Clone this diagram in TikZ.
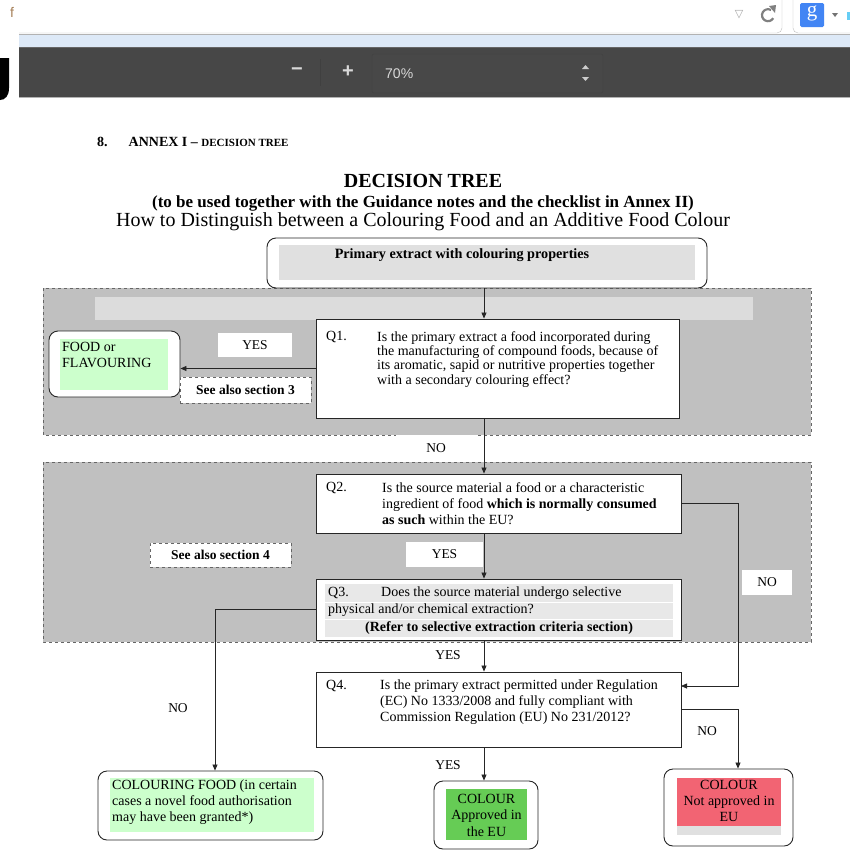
\documentclass[tikz,border=0pt]{standalone}
\usepackage{fontspec}
\setmainfont{Liberation Serif}
\newfontfamily\uifont{Liberation Sans}
\newfontfamily\symfont{DejaVu Sans}
\usetikzlibrary{arrows.meta,calc}
\definecolor{regiongray}{HTML}{C0C0C0}
\definecolor{stripgray}{HTML}{DCDCDC}
\definecolor{primgray}{HTML}{E0E0E0}
\definecolor{lightgreen}{HTML}{CCFFCC}
\definecolor{midgreen}{HTML}{66CC55}
\definecolor{pinkred}{HTML}{F26473}
\definecolor{toolbar}{HTML}{474747}
\definecolor{paleblue}{HTML}{DDE9F7}
\definecolor{gblue}{HTML}{4285F4}
\begin{document}
\begin{tikzpicture}[x=1pt,y=-1pt,
  region/.style={draw=black!60,dashed,fill=regiongray,line width=0.5pt},
  qbox/.style={draw=black!85,fill=white,line width=0.9pt,rectangle,inner sep=0},
  outbox/.style={draw=black!85,fill=white,line width=0.9pt,rounded corners=9pt,rectangle,inner sep=0},
  lab/.style={fill=white,inner sep=0,rectangle,font=\fontsize{13.5}{15}\selectfont},
  seebox/.style={draw=black!60,dashed,fill=white,inner sep=0,rectangle,font=\bfseries\fontsize{13.5}{15}\selectfont},
  qtext/.style={anchor=north west,inner sep=0,align=left,font=\fontsize{14}{16}\selectfont},
  arr/.style={-{Triangle[length=6pt,width=5pt]},line width=0.8pt,draw=black!85},
  conn/.style={line width=0.8pt,draw=black!85}]
\useasboundingbox (0,0) rectangle (850,857);
\fill[white] (0,0) rectangle (850,857);
% ---------------- browser chrome ----------------
\draw[black!25] (19,33) -- (777,33) arc[start angle=90,end angle=0,radius=5] -- (782,0);
\draw[black!25] (793,0) -- (793,28) arc[start angle=180,end angle=90,radius=5] -- (850,33);
\node[inner sep=0,text=brown!60!gray,font=\uifont\fontsize{14}{14}\selectfont] (fchar) at (12,12) {f};
\node[inner sep=0,text=black!35,font=\symfont\fontsize{11}{11}\selectfont] (tri) at (739,15) {▽};
\draw[black!50,line width=2.2pt] (771,10) arc[start angle=-60,end angle=-330,radius=6];
\fill[black!50] (769,6) -- (776,5) -- (775,13) -- cycle;
\fill[gblue,rounded corners=1.5pt] (800,3) rectangle (824,27);
\node[inner sep=0,text=white,font=\fontsize{21}{21}\selectfont] (gchar) at (812,13) {g};
\fill[black!55] (832,13) -- (838,13) -- (835,17) -- cycle;
\fill[cyan!60] (847,12) rectangle (850,20);
\fill[paleblue] (19,34) rectangle (850,47);
\draw[black!30] (19,34) -- (850,34);
\fill[toolbar] (19,47) rectangle (850,97);
\draw[black!60] (19,47) -- (850,47);
\draw[black!30] (19,97) -- (850,97);
\fill[black] (0,58) -- (9,58) -- (9,88) .. controls (9,96) and (5,100) .. (0,100) -- cycle;
\node[inner sep=0,text=white!85!black,font=\uifont\bfseries\fontsize{20}{20}\selectfont] (minus) at (297,72) {−};
\draw[black!75,line width=1pt] (320,59) -- (320,86);
\node[inner sep=0,text=white!85!black,font=\uifont\bfseries\fontsize{20}{20}\selectfont] (plus) at (348,72) {+};
\draw[black!75,fill=black!70,fill opacity=0.25,rounded corners=2pt] (372,54) rectangle (603,93);
\node[inner sep=0,anchor=west,text=white!85!black,font=\uifont\fontsize{14}{14}\selectfont] (zoom) at (385,74) {70\%};
\fill[white!80!black] (582,69) -- (589,69) -- (585.5,65) -- cycle;
\fill[white!80!black] (582,77) -- (589,77) -- (585.5,81) -- cycle;
% ---------------- headings ----------------
\node[inner sep=0,anchor=base west,font=\bfseries\fontsize{14}{16}\selectfont] (annex) at (97,146)
  {8.\hspace{21pt}ANNEX I – {\fontsize{11}{13}\selectfont DECISION TREE}};
\node[inner sep=0,font=\bfseries\fontsize{20}{22}\selectfont] (title) at (423,181) {DECISION TREE};
\node[inner sep=0,font=\bfseries\fontsize{17}{19}\selectfont] (sub) at (423,203)
  {(to be used together with the Guidance notes and the checklist in Annex II)};
\node[inner sep=0,font=\fontsize{20}{22}\selectfont] (how) at (423,222)
  {How to Distinguish between a Colouring Food and an Additive Food Colour};
% ---------------- regions ----------------
\path[region] (43,288) rectangle (811,435);
\fill[stripgray] (95,297) rectangle (753,320);
\path[region] (43,462) rectangle (811,642);
\coordinate (spine) at (484,0);
\coordinate (nocol) at (738,0);
\coordinate (lx) at (215,0);
% ---------------- primary ----------------
\node[outbox,minimum width=440,minimum height=50] (prim) at (487,263) {};
\fill[primgray] (279,245) rectangle (695,280);
\node[inner sep=0,font=\bfseries\fontsize{14.2}{16}\selectfont] (primtxt) at (462,255) {Primary extract with colouring properties};
% ---------------- Q1 ----------------
\node[qbox,minimum width=363,minimum height=99] (q1) at (497.5,368.5) {};
\node[qtext,font=\fontsize{14}{14.4}\selectfont] (q1n) at (326,331) {Q1.};
\node[qtext,font=\fontsize{14}{14.4}\selectfont] (q1t) at (377,331) {Is the primary extract a food incorporated during\\
the manufacturing of compound foods, because of\\
its aromatic, sapid or nutritive properties together\\
with a secondary colouring effect?};
% FOOD or FLAVOURING
\node[outbox,minimum width=131,minimum height=66] (food) at (114.5,364) {};
\fill[lightgreen] (60,339) rectangle (168,390);
\node[qtext] (foodt) at (62,342) {FOOD or\\FLAVOURING};
\node[lab,minimum width=74,minimum height=24] (yes1) at (255,345) {YES};
\node[seebox,minimum width=131,minimum height=26] (see3) at (245.5,390) {See also section 3};
% ---------------- Q2 ----------------
\node[qbox,minimum width=365,minimum height=59] (q2) at (498.5,503.5) {};
\node[qtext] (q2n) at (326,482) {Q2.};
\node[qtext] (q2t) at (382,482) {Is the source material a food or a characteristic\\
ingredient of food \textbf{which is normally consumed}\\
\textbf{as such} within the EU?};
\node[seebox,minimum width=141,minimum height=24] (see4) at (220.5,555) {See also section 4};
\node[lab,minimum width=77,minimum height=25] (yes2) at (444.5,554.5) {YES};
\node[lab,minimum width=50,minimum height=25] (no2) at (767,582.5) {NO};
% ---------------- Q3 ----------------
\node[qbox,minimum width=365,minimum height=61] (q3) at (498.5,609.5) {};
\fill[black!9] (325,584) rectangle (673,637);
\draw[white,line width=0.8pt] (325,602) -- (673,602);
\draw[white,line width=0.8pt] (325,619) -- (673,619);
\node[qtext] (q3n) at (328,587) {Q3.};
\node[qtext] (q3t) at (381,587) {Does the source material undergo selective};
\node[qtext] (q3t2) at (328,604) {physical and/or chemical extraction?};
\node[inner sep=0,font=\bfseries\fontsize{14}{16}\selectfont] (q3t3) at (499,628) {(Refer to selective extraction criteria section)};
% NO between regions
\node[lab,minimum width=80,minimum height=27] (no1) at (436,448) {NO};
% ---------------- Q4 ----------------
\node[qbox,minimum width=365,minimum height=75] (q4) at (498.5,709.5) {};
\node[qtext] (q4n) at (326,680) {Q4.};
\node[qtext] (q4t) at (380,680) {Is the primary extract permitted under Regulation\\
(EC) No 1333/2008 and fully compliant with\\
Commission Regulation (EU) No 231/2012?};
\coordinate (q4in) at (681,686);
\node[lab] (yes3) at (448,655) {YES};
\node[lab] (yes4) at (448,765) {YES};
\node[lab] (no3) at (178,708) {NO};
\node[lab] (no4) at (707,731) {NO};
% ---------------- outcomes ----------------
\node[outbox,minimum width=225,minimum height=69] (cf) at (210.5,805.5) {};
\fill[lightgreen] (110,778) rectangle (314,832);
\node[qtext] (cft) at (112,780) {COLOURING FOOD (in certain\\
cases a novel food authorisation\\
may have been granted*)};
\node[outbox,minimum width=104,minimum height=68] (ap) at (486,815) {};
\fill[midgreen] (446,789) rectangle (527,840);
\node[inner sep=0,align=center,font=\fontsize{14}{16.5}\selectfont] (apt) at (486.5,815) {COLOUR\hspace{10pt}\\Approved in\\the EU};
\node[outbox,minimum width=129,minimum height=77] (na) at (728.5,807.5) {};
\fill[black!12] (677,826) rectangle (781,835);
\fill[pinkred] (677,778) rectangle (781,826);
\node[inner sep=0,align=center,font=\fontsize{14}{16}\selectfont] (nat) at (729,801) {COLOUR\\Not approved in\\EU};
% ---------------- connectors ----------------
\draw[arr] (prim.south -| spine) -- (q1.north -| spine);
\draw[arr] (q1.west) -- (food.east |- q1.west);
\draw[arr] (q1.south -| spine) -- (q2.north -| spine);
\draw[arr] (q2.south -| spine) -- (q3.north -| spine);
\draw[arr] (q2.east) -- (q2.east -| nocol) -- (nocol |- q4in) -- (q4in);
\draw[arr] (q3.west) -- (q3.west -| lx) -- (cf.north -| lx);
\draw[arr] (q3.south -| spine) -- (q4.north -| spine);
\draw[arr] (q4.south -| spine) -- (ap.north -| spine);
\draw[arr] (q4.east) -- (q4.east -| nocol) -- (na.north -| nocol);
\end{tikzpicture}
\end{document}
